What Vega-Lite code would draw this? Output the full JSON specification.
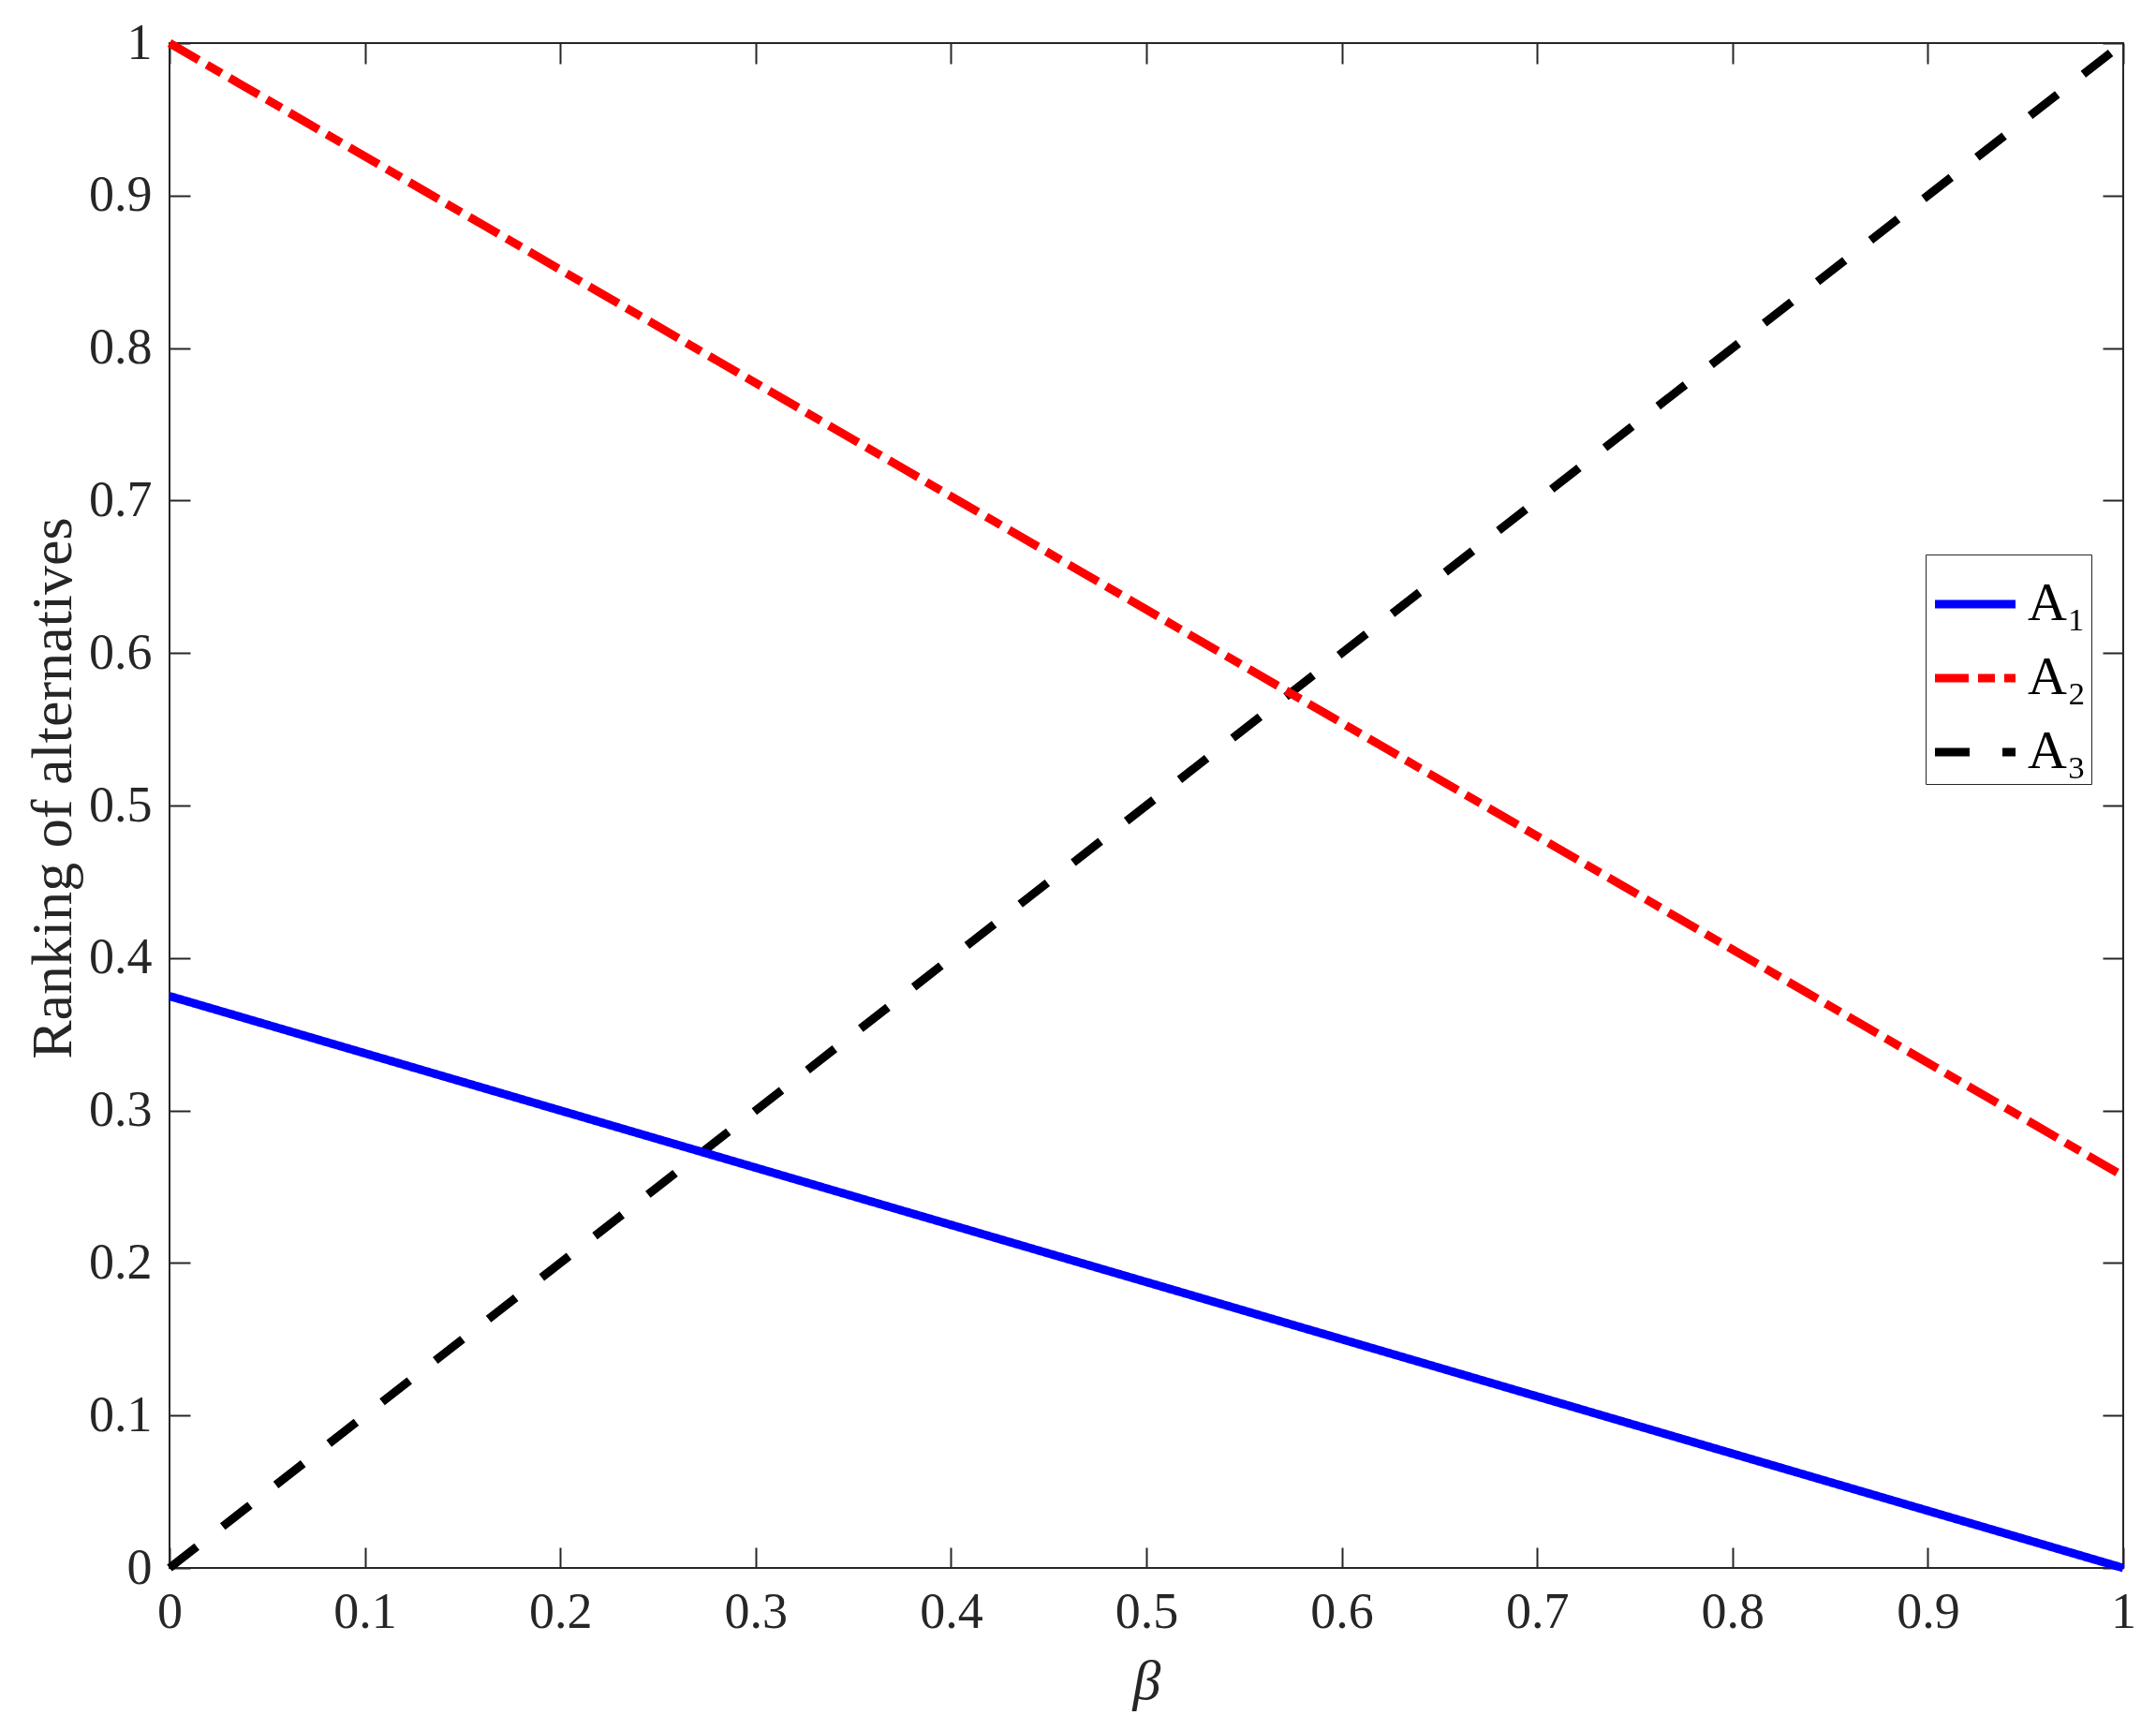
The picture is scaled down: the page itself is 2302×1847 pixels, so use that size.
{
  "$schema": "https://vega.github.io/schema/vega-lite/v6.json",
  "width": 2086,
  "height": 1628,
  "autosize": {"type": "none"},
  "padding": {"left": 181, "top": 46, "right": 35, "bottom": 173},
  "background": "white",
  "config": {
    "view": {"stroke": "#262626", "strokeWidth": 2},
    "font": "Liberation Serif",
    "axis": {
      "domain": false,
      "grid": false,
      "tickColor": "#262626",
      "tickWidth": 2,
      "tickSize": -22
    }
  },
  "data": {
    "values": [
      {"beta": 0, "v": 0, "s": "A₃"},
      {"beta": 1, "v": 1, "s": "A₃"},
      {"beta": 0, "v": 0.375, "s": "A₁"},
      {"beta": 1, "v": 0, "s": "A₁"},
      {"beta": 0, "v": 1, "s": "A₂"},
      {"beta": 1, "v": 0.257, "s": "A₂"}
    ]
  },
  "layer": [
    {
      "mark": {"type": "line", "strokeWidth": 9, "strokeCap": "butt", "clip": false},
      "encoding": {
        "x": {
          "field": "beta", "type": "quantitative",
          "scale": {"domain": [0, 1], "nice": false, "zero": false},
          "axis": {"orient": "bottom", "values": [0,0.1,0.2,0.3,0.4,0.5,0.6,0.7,0.8,0.9,1], "format": ".1~f", "labelPadding": 42, "labelFlush": false, "labelOverlap": false,
            "labelFont": "Liberation Serif", "labelFontSize": 54, "labelColor": "#262626",
            "title": "β", "titleFont": "Liberation Serif", "titleFontSize": 60, "titleFontStyle": "italic", "titleFontWeight": "normal", "titleColor": "#262626",
            "titleX": 1043, "titleY": 121, "titleBaseline": "middle", "titleAlign": "center"}
        },
        "y": {
          "field": "v", "type": "quantitative",
          "scale": {"domain": [0, 1], "nice": false, "zero": false},
          "axis": {"orient": "left", "values": [0,0.1,0.2,0.3,0.4,0.5,0.6,0.7,0.8,0.9,1], "format": ".1~f", "labelPadding": 41, "labelFlush": false, "labelOverlap": false,
            "labelFont": "Liberation Serif", "labelFontSize": 54, "labelColor": "#262626",
            "title": "Ranking of alternatives", "titleFont": "Liberation Serif", "titleFontSize": 62, "titleFontWeight": "normal", "titleColor": "#262626",
            "titleX": -125, "titleY": 795, "titleAngle": -90, "titleBaseline": "middle", "titleAlign": "center"}
        },
        "color": {
          "field": "s", "type": "nominal",
          "scale": {"domain": ["A₁", "A₂", "A₃"], "range": ["#0000FF", "#FF0000", "#000000"]},
          "legend": {
            "orient": "none", "legendX": 1875, "legendY": 546,
            "title": null,
            "strokeColor": "#262626", "fillColor": "white",
            "padding": 5,
            "symbolType": "stroke", "symbolSize": 7400, "symbolStrokeWidth": 9,
            "labelFont": "Liberation Serif", "labelFontSize": 58, "labelColor": "#000000",
            "labelOffset": 8, "rowPadding": 2, "labelLimit": 300
          }
        },
        "strokeDash": {
          "field": "s", "type": "nominal",
          "scale": {"domain": ["A₁", "A₂", "A₃"], "range": [[1, 0], [36, 10, 18, 10], [37, 35]]},
          "legend": null
        }
      }
    },
    {
      "mark": {"type": "line", "opacity": 0},
      "encoding": {
        "x": {
          "field": "beta", "type": "quantitative",
          "axis": {"orient": "top", "values": [0,0.1,0.2,0.3,0.4,0.5,0.6,0.7,0.8,0.9,1], "labels": false, "title": null}
        },
        "y": {
          "field": "v", "type": "quantitative",
          "axis": {"orient": "right", "values": [0,0.1,0.2,0.3,0.4,0.5,0.6,0.7,0.8,0.9,1], "labels": false, "title": null}
        },
        "detail": {"field": "s", "type": "nominal"}
      }
    }
  ],
  "resolve": {"axis": {"x": "independent", "y": "independent"}}
}
